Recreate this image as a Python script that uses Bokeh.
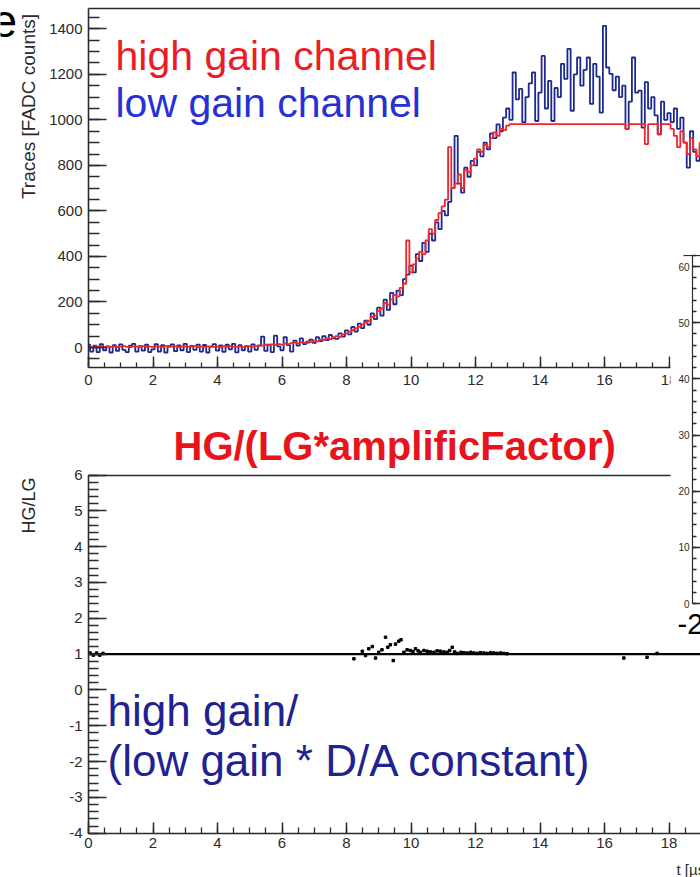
from math import pi
from bokeh.plotting import figure
from bokeh.models import (Range1d, LinearAxis, SingleIntervalTicker, FixedTicker,
                          BoxAnnotation, Label, PrintfTickFormatter)
from bokeh.embed import file_html
from bokeh.resources import INLINE

# ---------------- data ----------------
trace_t0 = 0.0          # first sample time [us]
trace_dt = 0.1          # sample spacing [us]

high_gain = [
    4, 2, 5, 3, 6, 2, 4, 3, 5, 2,
    4, 6, 3, 2, 5, 4, 3, 6, 2, 4,
    3, 5, 4, 2, 6, 3, 4, 5, 2, 4,
    5, 3, 4, 6, 2, 4, 3, 5, 4, 3,
    4, 2, 5, 3, 6, 4, 3, 5, 2, 5,
    6, 4, 7, 9, 8, 12, 10, 14, 12, 15,
    13, 17, 15, 19, 22, 18, 24, 21, 27, 25,
    30, 27, 35, 33, 40, 37, 45, 50, 47, 58,
    62, 70, 76, 84, 92, 100, 110, 118, 135, 140,
    160, 172, 195, 188, 210, 230, 225, 262, 280, 470,
    330, 365, 390, 420, 410, 470, 520, 500, 560, 590,
    620, 650, 880, 700, 720, 760, 700, 780, 770, 800,
    830, 870, 860, 890, 880, 920, 945, 930, 960, 955,
    975, 981, 981, 981, 981, 981, 981, 981, 981, 981,
    981, 981, 981, 981, 981, 981, 981, 981, 981, 981,
    981, 981, 981, 981, 981, 981, 981, 981, 981, 981,
    981, 981, 981, 981, 981, 981, 981, 960, 981, 981,
    981, 981, 981, 893, 981, 981, 981, 935, 981, 981,
    981, 960, 930, 880, 950, 900, 850, 920, 870, 840, 900,
]

low_gain_scaled = [
    12, -18, 8, -20, 15, -12, 5, -22, 10, -15,
    14, -10, -20, 8, 16, -18, 6, -14, 12, -20,
    -8, 15, -18, 10, -22, 6, 14, -16, 9, -12,
    16, -20, 7, -10, 13, -18, 11, -22, 4, 15,
    -14, 9, -19, 12, -8, 16, -21, 10, -12, 6,
    -18, 14, -10, 8, 48, -15, 12, -20, 52, 5,
    -12, 45, 10, -18, 30, 8, 40, 15, 22, 35,
    20, 45, 28, 50, 32, 55, 40, 38, 62, 48,
    75, 58, 90, 70, 105, 85, 118, 100, 150, 125,
    175, 140, 210, 165, 240, 190, 250, 230, 300, 320,
    360, 330, 410, 380, 460, 420, 500, 470, 550, 520,
    600, 580, 640, 700, 930, 720, 680, 790, 750, 820,
    800, 860, 840, 900, 870, 940, 920, 980, 950, 1010,
    1050, 1000, 1208, 1090, 1136, 990, 1100, 1160, 1208, 995,
    1120, 1281, 1050, 1171, 995, 1140, 1100, 1246, 1180, 1312,
    1040, 1200, 1274, 1150, 1220, 1274, 1070, 1246, 1190, 1032,
    1413, 1230, 1202, 1130, 1190, 1100, 1150, 960, 1080, 1274,
    1120, 1128, 966, 1166, 1050, 1100, 1020, 937, 1080, 1000,
    1030, 990, 1050, 960, 1010, 900, 790, 950, 860, 820, 880,
]

ratio_t = [0.05, 0.15, 0.25, 0.35, 0.45,
           8.23, 8.49, 8.59, 8.69, 8.80, 8.90, 9.00, 9.10, 9.21, 9.28,
           9.36, 9.45, 9.52, 9.62, 9.69, 9.78, 9.88, 9.98, 10.06, 10.14,
           10.22, 10.29, 10.40, 10.50, 10.60, 10.71, 10.81, 10.91, 11.02, 11.12,
           11.20, 11.28, 11.35, 11.43, 11.55, 11.64, 11.74, 11.85, 11.95, 12.05,
           12.15, 12.26, 12.36, 12.47, 12.57, 12.67, 12.78, 12.88, 12.98,
           16.60, 17.32, 17.63]
ratio_v = [1.03, 0.97, 1.03, 0.97, 1.02,
           0.87, 1.08, 0.96, 1.15, 1.21, 0.89, 1.05, 1.12, 1.47, 1.19,
           1.26, 0.82, 1.28, 1.36, 1.40, 1.05, 1.12, 1.10, 1.07, 1.15,
           1.09, 1.05, 1.10, 1.08, 1.06, 1.05, 1.09, 1.08, 1.06, 1.05,
           1.10, 1.19, 1.06, 1.02, 1.05, 1.04, 1.03, 1.05, 1.03, 1.02,
           1.04, 1.03, 1.02, 1.04, 1.03, 1.02, 1.03, 1.02, 1.01,
           0.89, 0.91, 1.02]

ratio_level_t = [0.0, 19.0]
ratio_level_v = [1.0, 1.0]

adc_ticks_step = 200
ratio_ticks_step = 1
time_ticks_step = 2
inset_ticks_step = 10

trace_t = [round(trace_t0 + i * trace_dt, 2) for i in range(len(high_gain))]

# ---------------- layout calibration ----------------
W, H = 700, 877
FONT = "Liberation Sans"


def val(v1, p1, v2, p2, px):
    k = (p2 - p1) / (v2 - v1)
    return v1 + (px - p1) / k


tx = (0, 88, 16, 604)          # time axis: value, pixel pairs
ay = (0, 347, 1400, 28.3)      # ADC axis (pixels from top)
ry = (6, 474.5, -4, 832.7)     # ratio axis
iy = (60, 266, 0, 603)         # inset axis

p = figure(width=W, height=H, x_range=Range1d(0, W), y_range=Range1d(H, 0),
           x_axis_type=None, y_axis_type=None, min_border=0,
           toolbar_location=None, output_backend="svg",
           outline_line_color=None, background_fill_color="white",
           border_fill_color="white")
p.extra_x_ranges = {"t": Range1d(val(*tx, 0), val(*tx, W))}
p.extra_y_ranges = {
    "adc": Range1d(val(*ay, H), val(*ay, 0)),
    "ratio": Range1d(val(*ry, H), val(*ry, 0)),
    "inset": Range1d(val(*iy, H), val(*iy, 0)),
}
t_end = val(*tx, W)

AX = "#2b2b2b"


def style(ax, fs="15px", mj=17, mn=10, standoff=6):
    ax.axis_line_color = AX
    ax.axis_line_width = 1.6
    ax.major_tick_line_color = AX
    ax.major_tick_line_width = 1.5
    ax.minor_tick_line_color = AX
    ax.minor_tick_line_width = 1.3
    ax.major_tick_in = mj
    ax.major_tick_out = 0
    ax.minor_tick_in = mn
    ax.minor_tick_out = 0
    ax.major_label_text_font = FONT
    ax.major_label_text_font_size = fs
    ax.major_label_text_color = AX
    ax.major_label_standoff = standoff
    ax.formatter = PrintfTickFormatter(format="%d")
    return ax


def border(ax):
    ax.ticker = FixedTicker(ticks=[], minor_ticks=[])
    ax.major_tick_line_color = None
    ax.minor_tick_line_color = None
    ax.major_label_text_font_size = "0px"
    ax.axis_line_color = AX
    ax.axis_line_width = 1.6
    return ax


# ---------------- top plot: traces ----------------
p.step(trace_t, low_gain_scaled, mode="center", x_range_name="t", y_range_name="adc",
       line_color="#1c2a8f", line_width=1.8)
p.step(trace_t, high_gain, mode="center", x_range_name="t", y_range_name="adc",
       line_color="#f0262a", line_width=1.8)

ya = style(LinearAxis(y_range_name="adc", fixed_location=88,
                      bounds=(val(*ay, 367), val(*ay, 8.3)),
                      ticker=SingleIntervalTicker(interval=adc_ticks_step, num_minor_ticks=4)),
           mj=18, mn=11, standoff=6)
p.add_layout(ya, "left")
xa = style(LinearAxis(x_range_name="t", fixed_location=367, bounds=(0, t_end),
                      ticker=SingleIntervalTicker(interval=time_ticks_step, num_minor_ticks=4)),
           mj=11, mn=5, standoff=7)
p.add_layout(xa, "below")
p.add_layout(border(LinearAxis(x_range_name="t", fixed_location=8.3, bounds=(0, t_end))), "above")

# ---------------- bottom plot: ratio ----------------
p.line(ratio_level_t, ratio_level_v, x_range_name="t", y_range_name="ratio",
       line_color="black", line_width=2.2)
p.scatter(ratio_t, ratio_v, x_range_name="t", y_range_name="ratio", marker="square",
          size=2.5, color="black")

yr = style(LinearAxis(y_range_name="ratio", fixed_location=88, bounds=(-4, 6),
                      ticker=SingleIntervalTicker(interval=ratio_ticks_step, num_minor_ticks=5)),
           mj=18, mn=10, standoff=6)
p.add_layout(yr, "left")
xr = style(LinearAxis(x_range_name="t", fixed_location=832.7, bounds=(0, t_end),
                      ticker=SingleIntervalTicker(interval=time_ticks_step, num_minor_ticks=4)),
           mj=11, mn=6, standoff=5)
p.add_layout(xr, "below")
p.add_layout(border(LinearAxis(x_range_name="t", fixed_location=474.5, bounds=(0, t_end))), "above")

# ---------------- inset (partly visible on the right) ----------------
p.add_layout(BoxAnnotation(left=670, right=W + 5, top=250, bottom=632,
                           fill_color="white", fill_alpha=1.0, line_color=None))
yi = style(LinearAxis(y_range_name="inset", fixed_location=692, bounds=(0, 62),
                      ticker=SingleIntervalTicker(interval=inset_ticks_step, num_minor_ticks=5)),
           fs="10px", mj=8, mn=4, standoff=3)
yi.axis_line_width = 1.2
yi.level = "overlay"
p.add_layout(yi, "left")
ti = border(LinearAxis(fixed_location=255, bounds=(683, W)))
ti.axis_line_width = 1.2
ti.level = "overlay"
p.add_layout(ti, "above")


def label(x, y, text, size, color, bold=False, angle=0.0, align="left", baseline="alphabetic"):
    lb = Label(x=x, y=y, text=text, text_font=FONT, text_font_size=size,
               text_color=color, text_font_style="bold" if bold else "normal",
               angle=angle, text_align=align, text_baseline=baseline)
    lb.level = "overlay"
    p.add_layout(lb)


label(677, 623, "-2", "29px", "black")
label(-9, 20, "e", "46px", "black")
label(115, 55, "high gain channel", "41px", "#ea1d25")
label(115, 102, "low gain channel", "41px", "#2630d4")
label(173, 445, "HG/(LG*amplificFactor)", "40px", "#e8141c", bold=True)
label(107, 710, "high gain/", "44px", "#1f2391")
label(107, 760, "(low gain * D/A constant)", "44px", "#1f2391")
label(28, 106, "Traces [FADC counts]", "19px", AX, angle=pi / 2, align="center", baseline="middle")
label(28, 505, "HG/LG", "18px", AX, angle=pi / 2, align="center", baseline="middle")
label(676, 869, "t [\u00b5s]", "15px", AX)

open("out.html", "w").write(file_html(p, INLINE))
